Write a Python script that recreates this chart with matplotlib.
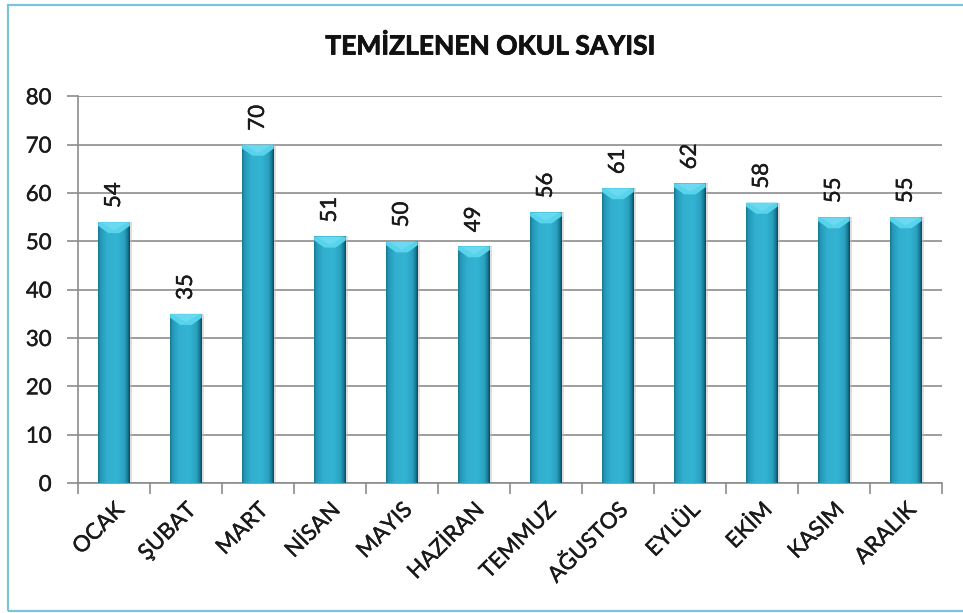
import numpy as np
import matplotlib
matplotlib.use("Agg")
import matplotlib.pyplot as plt
import matplotlib.patheffects as pe
from matplotlib.patches import Rectangle, Polygon
from matplotlib.colors import LinearSegmentedColormap

months = ["OCAK", "ŞUBAT", "MART", "NİSAN", "MAYIS", "HAZİRAN",
          "TEMMUZ", "AĞUSTOS", "EYLÜL", "EKİM", "KASIM", "ARALIK"]
counts = [54, 35, 70, 51, 50, 49, 56, 61, 62, 58, 55, 55]
y_ticks = [0, 10, 20, 30, 40, 50, 60, 70, 80]
title = "TEMİZLENEN OKUL SAYISI"

plt.rcParams["font.family"] = ["Lato", "DejaVu Sans"]
TEXT_COLOR = "#1a1a1a"
# slightly heavier strokes for the regular-weight labels
heavy = [pe.withStroke(linewidth=0.3, foreground=TEXT_COLOR)]

fig = plt.figure(figsize=(9.63, 6.13), dpi=100)
ax = fig.add_axes([0.081, 0.212, 0.897, 0.631])

# light blue frame round the whole chart
fig.patches.append(Rectangle((8 / 963, 2 / 613), 1.2, 606 / 613,
                             transform=fig.transFigure, fill=False,
                             edgecolor="#7cc4d8", linewidth=1.6))

x = np.arange(len(months))
width = 0.44
ax.set_xlim(-0.5, len(months) - 0.5)
ax.set_ylim(0, 80)

# horizontal shading for the cylinder-like bars
shade = LinearSegmentedColormap.from_list(
    "bar", [(0.0, "#16738c"), (0.08, "#2598b8"), (0.3, "#31b0cf"),
            (0.6, "#33b4d2"), (0.82, "#2aa3c2"), (0.92, "#1b809b"),
            (1.0, "#0a4658")])
grad = np.linspace(0, 1, 256).reshape(1, -1)

bars = ax.bar(x, counts, width=width, color="none", zorder=3)
for rect, v in zip(bars, counts):
    x0 = rect.get_x()
    w = rect.get_width()
    x1 = x0 + w
    xc = x0 + w / 2
    # soft shadow on the right
    ax.add_patch(Rectangle((x0 + 0.03, 0), w, v, facecolor="#bfbfbf",
                           edgecolor="none", alpha=0.5, zorder=2))
    im = ax.imshow(grad, cmap=shade, extent=(x0, x1, 0, v), aspect="auto",
                   interpolation="bicubic", zorder=3)
    im.set_clip_path(rect)
    # bevelled top face
    d = 2.3
    ax.add_patch(Polygon([(x0, v), (x1, v), (x1, v - d * 0.35),
                          (xc + w * 0.18, v - d), (xc - w * 0.18, v - d),
                          (x0, v - d * 0.35)],
                         closed=True, facecolor="#58d3ec", edgecolor="none",
                         zorder=4))
    ax.add_patch(Polygon([(x0 + w * 0.1, v - 0.15), (x1 - w * 0.1, v - 0.15),
                          (xc, v - d * 0.75)],
                         closed=True, facecolor="#7fe2f5", edgecolor="none",
                         zorder=4, alpha=0.5))
    ax.annotate(str(v), xy=(xc, v), xytext=(0, 10),
                textcoords="offset points", rotation=90, ha="center",
                va="bottom", fontsize=16, color=TEXT_COLOR, zorder=5,
                path_effects=heavy)

ax.set_yticks(y_ticks)
ax.set_yticklabels([str(t) for t in y_ticks], fontsize=16, color=TEXT_COLOR,
                   path_effects=heavy)
ax.set_xticks(x)
ax.set_xticklabels(months, rotation=45, ha="right", rotation_mode="anchor",
                   fontsize=16, color=TEXT_COLOR, path_effects=heavy)
ax.set_xticks(np.arange(-0.5, len(months)), minor=True)
ax.tick_params(axis="x", which="major", length=0, pad=12)
ax.tick_params(axis="x", which="minor", length=8, color="#8c8c8c", width=1.2)
ax.tick_params(axis="y", length=8, color="#8c8c8c", width=1.2, pad=11)

ax.grid(axis="y", color="#8c8c8c", linewidth=1.2, zorder=0)
ax.set_axisbelow(True)
for side in ["top", "right"]:
    ax.spines[side].set_visible(False)
for side in ["left", "bottom"]:
    ax.spines[side].set_color("#8c8c8c")
    ax.spines[side].set_linewidth(1.2)

fig.text(0.509, 0.925, title, ha="center", va="center", fontsize=19,
         fontweight="bold", color="#111111",
         path_effects=[pe.withStroke(linewidth=0.6, foreground="#111111")])

fig.savefig("out.png", dpi=100)
